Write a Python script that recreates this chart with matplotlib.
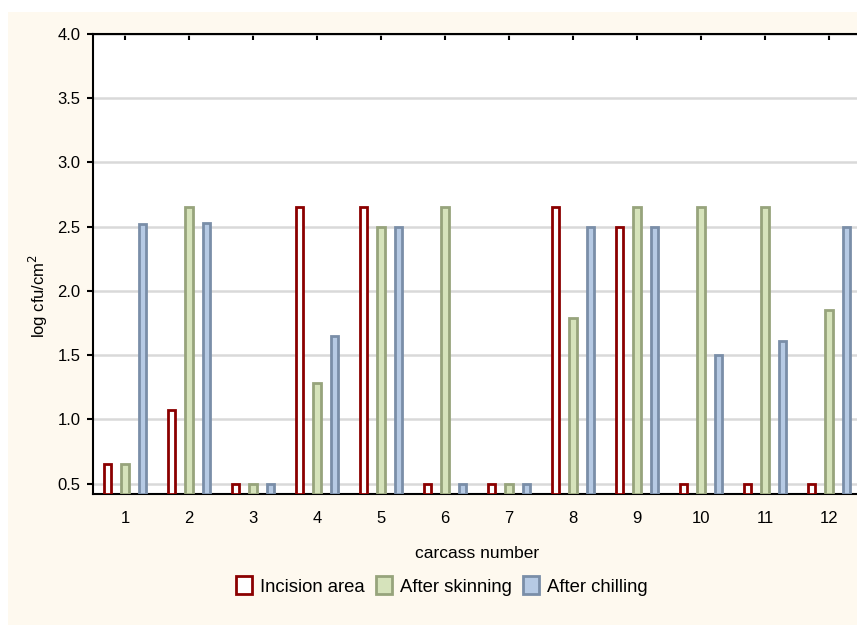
import numpy as np
import matplotlib.pyplot as plt
from matplotlib.patches import Patch

plt.rcParams['font.family'] = ['Liberation Sans', 'DejaVu Sans']

carcass = np.arange(1, 13)
incision = [0.65, 1.07, 0.5, 2.65, 2.65, 0.5, 0.5, 2.65, 2.5, 0.5, 0.5, 0.5]
skinning = [0.65, 2.65, 0.5, 1.28, 2.5, 2.65, 0.5, 1.79, 2.65, 2.65, 2.65, 1.85]
chilling = [2.52, 2.53, 0.5, 1.65, 2.5, 0.5, 0.5, 2.5, 2.5, 1.5, 1.61, 2.5]

names = ["Incision area", "After skinning", "After chilling"]
edges = ["#8b0000", "#97a47c", "#7a8ea8"]
fills = ["#ffffff", "#d6e3bb", "#b6cae4"]

BG = "#fef9ef"
BASE = 0.42

fig = plt.figure(figsize=(8.57, 6.25), dpi=100)
fig.patches.append(plt.Rectangle((8 / 857, 0), 1, 1 - 12 / 625, transform=fig.transFigure,
                                 facecolor=BG, edgecolor='none', zorder=-10))
# axes: left 93px, right ~861px, top 34px, bottom 494px
ax = fig.add_axes([93 / 857, 1 - 494 / 625, (861 - 93) / 857, (494 - 34) / 625])

w = 0.11
for i, (vals, off) in enumerate(zip([incision, skinning, chilling], [-0.28, 0, 0.28])):
    v = np.array(vals)
    ax.bar(carcass + off, v - BASE, bottom=BASE, width=w, facecolor=fills[i],
           edgecolor=edges[i], linewidth=2, zorder=3)

ax.set_xlim(0.5, 12.5)
ax.set_ylim(BASE, 4.0)
ax.set_yticks(np.arange(0.5, 4.01, 0.5))
ax.set_yticklabels([f"{t:.1f}" for t in np.arange(0.5, 4.01, 0.5)])
ax.set_xticks(carcass)
ax.grid(axis='y', color='#d9d9d9', linewidth=1.8, zorder=0)
ax.tick_params(axis='y', direction='out', length=4, width=1.5, labelsize=12, pad=5)
ax.tick_params(axis='x', direction='in', length=4, width=1.5, labelsize=12,
               top=True, pad=12)
for s in ['left', 'bottom', 'top']:
    ax.spines[s].set_linewidth(1.5)
ax.spines['right'].set_visible(False)

ax.set_xlabel("carcass number", fontsize=12.5, labelpad=15)
ax.set_ylabel("log cfu/cm$^2$", fontsize=12)
ax.yaxis.set_label_coords(-0.056, 0.43)

handles = [Patch(facecolor=fills[i], edgecolor=edges[i], linewidth=2) for i in range(3)]
fig.legend(handles, names, loc='center', bbox_to_anchor=(442 / 857, 1 - 586 / 625),
           ncol=3, frameon=False, fontsize=13.3, handlelength=0.85, handleheight=1.1,
           handletextpad=0.45, columnspacing=0.6)

fig.savefig("out.png", dpi=100, facecolor='white')
